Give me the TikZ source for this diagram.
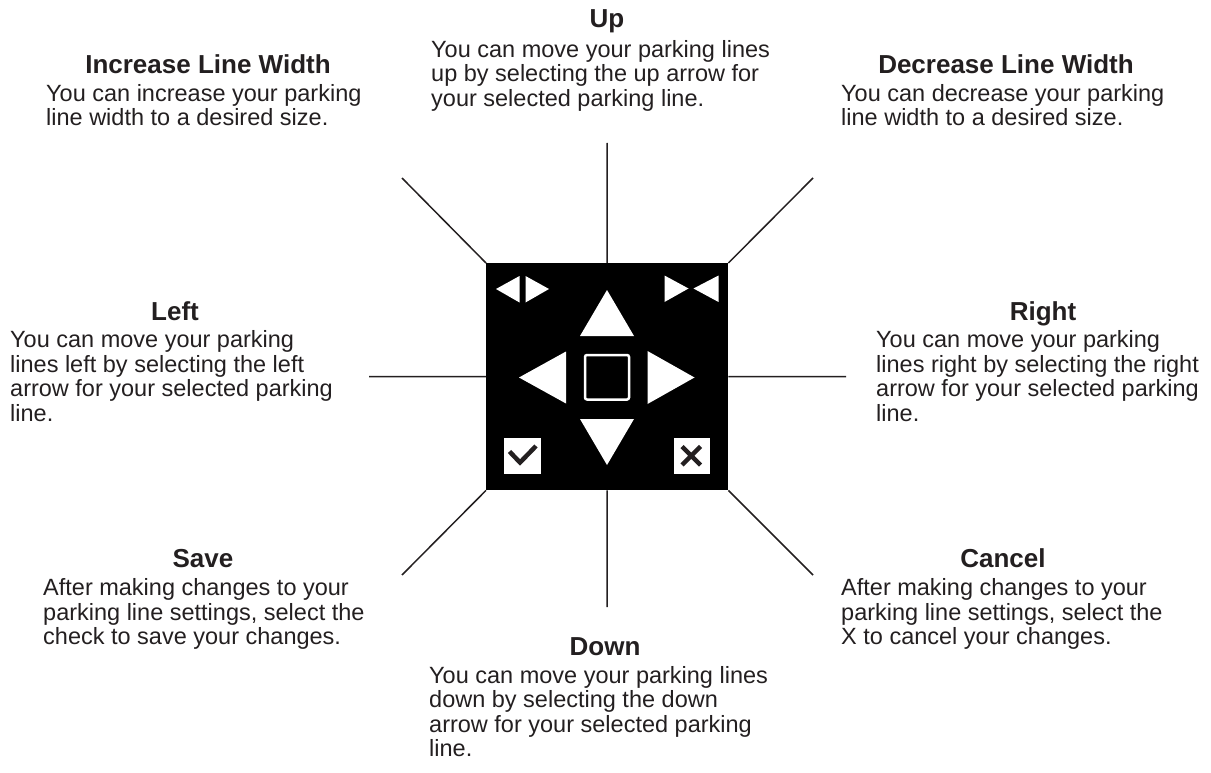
\documentclass[tikz,border=0pt]{standalone}
\usepackage{fontspec}
\setmainfont{Liberation Sans}
\definecolor{txt}{HTML}{231F20}
\begin{document}
\begin{tikzpicture}[x=1pt,y=-1pt,
  ttl/.style={font=\fontsize{26}{28}\selectfont\bfseries, text=txt, inner sep=0pt, anchor=base},
  bodytext/.style={font=\fontsize{23.5}{24.5}\selectfont, text=txt, inner sep=0pt, align=left, anchor=base west},
  conn/.style={line width=1.5pt, draw=txt},
  glyph/.style={fill=white, draw=none}]
\useasboundingbox (0,0) rectangle (1211,773);

% central panel
\node[fill=black, minimum width=242pt, minimum height=227pt, inner sep=0pt, anchor=north west] (panel) at (486,263) {};

% labels (body nodes are placed by the baseline of their last line)
\node[ttl] (upT) at (607,28) {Up};
\node[bodytext] (upB) at (431,106.5) {You can move your parking lines\\up by selecting the up arrow for\\your selected parking line.};

\node[ttl] (incT) at (208,73.5) {Increase Line Width};
\node[bodytext] (incB) at (46,126) {You can increase your parking\\line width to a desired size.};

\node[ttl] (decT) at (1006,73.5) {Decrease Line Width};
\node[bodytext] (decB) at (841,126) {You can decrease your parking\\line width to a desired size.};

\node[ttl] (leftT) at (175,320) {Left};
\node[bodytext] (leftB) at (10,421) {You can move your parking\\lines left by selecting the left\\arrow for your selected parking\\line.};

\node[ttl] (rightT) at (1043,320) {Right};
\node[bodytext] (rightB) at (876,421) {You can move your parking\\lines right by selecting the right\\arrow for your selected parking\\line.};

\node[ttl] (saveT) at (203,567.5) {Save};
\node[bodytext] (saveB) at (43,644.5) {After making changes to your\\parking line settings, select the\\check to save your changes.};

\node[ttl] (cancelT) at (1003,567.5) {Cancel};
\node[bodytext] (cancelB) at (841,644.5) {After making changes to your\\parking line settings, select the\\X to cancel your changes.};

\node[ttl] (downT) at (605,655) {Down};
\node[bodytext] (downB) at (429,756.5) {You can move your parking lines\\down by selecting the down\\arrow for your selected parking\\line.};

% connector ends
\coordinate (cUp) at (607,143);
\coordinate (cDown) at (607,607);
\coordinate (cLeft) at (369,376.5);
\coordinate (cRight) at (846,376.5);
\coordinate (cUL) at (402,178);
\coordinate (cUR) at (813,178);
\coordinate (cLL) at (402,575);
\coordinate (cLR) at (813,575);

\draw[conn] (cUp) -- (panel.north);
\draw[conn] (panel.south) -- (cDown);
\draw[conn] (cLeft) -- (panel.west);
\draw[conn] (panel.east) -- (cRight);
\draw[conn] (cUL) -- (panel.north west);
\draw[conn] (cUR) -- (panel.north east);
\draw[conn] (panel.south west) -- (cLL);
\draw[conn] (panel.south east) -- (cLR);

% icons
\fill[glyph] (607,290) -- (580,336) -- (634,336) -- cycle;
\fill[glyph] (580,419) -- (634,419) -- (607,465) -- cycle;
\fill[glyph] (519,377.5) -- (566,351.5) -- (566,403.5) -- cycle;
\fill[glyph] (647.5,351) -- (694.5,377.5) -- (647.5,404) -- cycle;
\draw[white, line width=2.5pt, rounded corners=2pt] (585,355) rectangle (629,399.5);

\fill[glyph] (496,289) -- (519.5,276) -- (519.5,302.5) -- cycle;
\fill[glyph] (525.5,276) -- (549,289) -- (525.5,302.5) -- cycle;
\fill[glyph] (664.5,275.5) -- (688.5,288.5) -- (664.5,302) -- cycle;
\fill[glyph] (693.5,288.5) -- (718.5,275.5) -- (718.5,302) -- cycle;

\fill[glyph] (504,437.5) rectangle (541,473.5);
\draw[txt, line width=4.5pt] (509.5,451.5) -- (520,462.5) -- (536,446);
\fill[glyph] (673.5,437.5) rectangle (710,473.5);
\draw[txt, line width=4.5pt] (682,446.5) -- (700.5,465) (700.5,446.5) -- (682,465);
\end{tikzpicture}
\end{document}
